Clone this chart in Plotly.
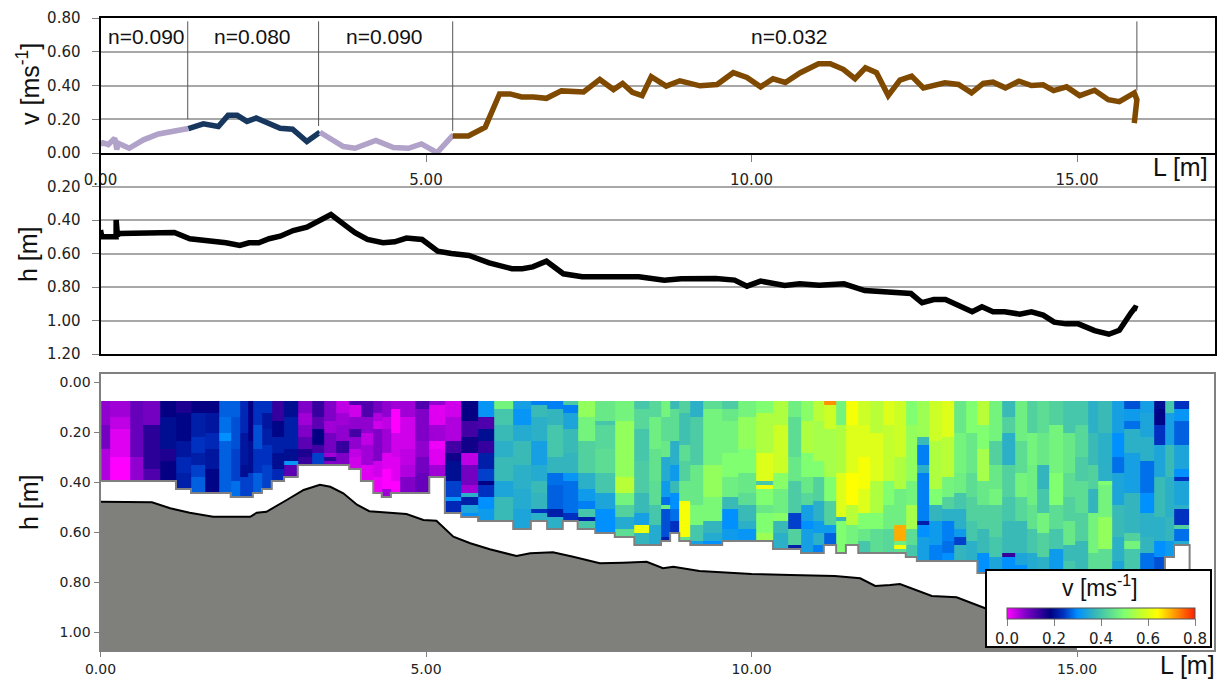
import plotly.graph_objects as go

W, H = 1223, 680
FONT = "DejaVu Sans"
LABEL = "Liberation Sans"

# velocity along the reach, one list per roughness zone
v_l1 = [0.0, 0.04, 0.12, 0.22, 0.25, 0.27, 0.44, 0.66, 0.89, 1.12, 1.35]
v_y1 = [0.05, 0.06, 0.05, 0.088, 0.02, 0.058, 0.028, 0.078, 0.113, 0.131, 0.145]
v_l2 = [1.35, 1.58, 1.81, 1.96, 2.10, 2.25, 2.39, 2.76, 2.95, 3.17, 3.37]
v_y2 = [0.145, 0.173, 0.157, 0.223, 0.223, 0.187, 0.207, 0.147, 0.141, 0.068, 0.123]
v_l3 = [3.37, 3.73, 3.91, 4.23, 4.50, 4.73, 4.93, 5.17, 5.42]
v_y3 = [0.123, 0.038, 0.028, 0.074, 0.032, 0.028, 0.054, 0.002, 0.107]
v_l4 = [5.41, 5.65, 5.91, 6.13, 6.29, 6.47, 6.65, 6.85, 7.08, 7.42, 7.67, 7.88, 8.02, 8.17, 8.32, 8.46,
        8.69, 8.90, 9.21, 9.47, 9.72, 9.93, 10.14, 10.33, 10.52, 10.75, 11.03, 11.21, 11.41, 11.59,
        11.75, 11.92, 12.10, 12.28, 12.46, 12.64, 12.97, 13.18, 13.38, 13.56, 13.71, 13.90, 14.11,
        14.30, 14.48, 14.64, 14.84, 15.04, 15.27, 15.48, 15.65, 15.84, 15.88, 15.92, 15.88]
v_y4 = [0.101, 0.101, 0.153, 0.35, 0.35, 0.332, 0.332, 0.324, 0.368, 0.362, 0.436, 0.376, 0.412, 0.36, 0.34, 0.452,
        0.396, 0.428, 0.398, 0.406, 0.476, 0.448, 0.392, 0.44, 0.418, 0.476, 0.529, 0.529, 0.496, 0.44,
        0.505, 0.476, 0.34, 0.432, 0.456, 0.386, 0.416, 0.406, 0.356, 0.412, 0.42, 0.386, 0.426,
        0.40, 0.404, 0.37, 0.392, 0.34, 0.372, 0.316, 0.304, 0.346, 0.356, 0.316, 0.177]

zone_l = [1.34, 3.35, 5.41, 15.92]
zone_top = [0.78, 0.78, 0.78, 0.78]
zone_low = [0.20, 0.16, 0.13, 0.37]
zone_names = ["n=0.090", "n=0.080", "n=0.090", "n=0.032"]
zone_name_l = [0.70, 2.34, 4.36, 10.59]

# water depth profile
h_l = [0.0, 0.02, 0.20, 0.24, 0.24, 0.26, 0.30, 1.134, 1.372, 1.637, 1.928, 2.14, 2.28, 2.43, 2.59, 2.76, 2.96, 3.17,
       3.54, 3.81, 3.91, 4.10, 4.34, 4.52, 4.70, 4.94, 5.18, 5.39, 5.66, 5.97, 6.32, 6.48, 6.64, 6.85,
       7.11, 7.40, 7.67, 7.88, 8.27, 8.66, 8.92, 9.45, 9.74, 9.93, 10.14, 10.51, 10.74, 11.04, 11.42,
       11.74, 12.10, 12.45, 12.62, 12.80, 12.98, 13.39, 13.54, 13.71, 13.89, 14.12, 14.30, 14.48, 14.65,
       14.83, 15.02, 15.27, 15.49, 15.65, 15.83, 15.89, 15.93]
h_y = [0.46, 0.50, 0.50, 0.50, 0.40, 0.49, 0.48, 0.475, 0.512, 0.52, 0.536, 0.552, 0.536, 0.536, 0.512, 0.497, 0.463, 0.443,
       0.367, 0.447, 0.476, 0.516, 0.536, 0.53, 0.508, 0.516, 0.586, 0.60, 0.612, 0.656, 0.691, 0.691, 0.68, 0.646,
       0.721, 0.739, 0.739, 0.731, 0.739, 0.759, 0.751, 0.749, 0.759, 0.795, 0.765, 0.791, 0.781, 0.789, 0.781,
       0.821, 0.831, 0.839, 0.894, 0.875, 0.875, 0.948, 0.918, 0.948, 0.948, 0.962, 0.948, 0.968, 1.01,
       1.02, 1.02, 1.06, 1.082, 1.058, 0.954, 0.924, 0.93]

# channel bed in the lower panel
bed_l = [0.0, 0.79, 1.07, 1.37, 1.73, 2.30, 2.40, 2.55, 2.86, 3.12, 3.37, 3.53, 3.73, 3.94, 4.13, 4.52, 4.70, 4.96, 5.16,
         5.42, 5.68, 5.98, 6.39, 6.60, 6.95, 7.26, 7.67, 8.03, 8.39, 8.64, 8.80, 9.20, 10.0, 10.6, 11.28, 11.67,
         11.90, 12.13, 12.28, 12.77, 13.15, 13.59, 14.2, 15.0]
bed_h = [0.479, 0.481, 0.505, 0.523, 0.539, 0.539, 0.523, 0.519, 0.472, 0.432, 0.411, 0.419, 0.445, 0.491, 0.517, 0.523, 0.528, 0.552, 0.555,
         0.619, 0.645, 0.669, 0.696, 0.685, 0.681, 0.699, 0.725, 0.723, 0.719, 0.745, 0.739, 0.756, 0.768, 0.772, 0.776, 0.785,
         0.816, 0.812, 0.808, 0.856, 0.861, 0.905, 0.96, 1.02]

# velocity section: column edges [m]
cell_edges = [0.01, 0.15, 0.45, 0.65, 0.91, 1.16, 1.39, 1.61, 1.82, 2.00, 2.14, 2.27, 2.34, 2.48, 2.63, 2.82, 3.03,
              3.25, 3.43, 3.62, 3.82, 4.00, 4.19, 4.32, 4.46, 4.60, 4.83, 5.05, 5.29, 5.54, 5.80, 6.04,
              6.34, 6.61, 6.86, 7.10, 7.33, 7.60, 7.90, 8.20, 8.43, 8.61, 8.75, 8.89, 9.06, 9.25, 9.55, 9.79,
              10.07, 10.33, 10.56, 10.76, 10.94, 11.11, 11.30, 11.45, 11.64, 11.82,
              12.02, 12.19, 12.37, 12.54, 12.73, 12.93, 13.11, 13.30, 13.47, 13.65, 13.85, 14.05, 14.23, 14.39,
              14.57, 14.78, 14.97, 15.17, 15.32, 15.54, 15.72, 15.97, 16.18, 16.35, 16.49, 16.73]
row_top = 0.076
row_step = 0.016
# each column, from the surface down: [speed in cm/s, rows of that speed]
column_runs = [
    [[7,6],[9,6],[5,8]], [[6,4],[4,3],[2,7],[0,6]], [[10,14],[7,6]], [[9,6],[15,11],[12,3]],
    [[18,4],[20,8],[16,3],[18,5]], [[16,3],[19,7],[21,4],[23,4],[22,4]], [[18,3],[22,6],[24,4],[22,3],[25,3],[27,4]],
    [[18,3],[21,5],[23,4],[21,5],[19,6]], [[27,4],[28,4],[30,2],[27,13]], [[27,4],[26,8],[25,8],[28,4]],
    [[23,8],[21,8],[20,3],[25,5]], [[18,10],[20,8],[25,6]], [[24,6],[26,6],[24,6],[27,5]],
    [[24,3],[21,4],[22,4],[24,5],[25,6]], [[14,5],[19,4],[22,4],[20,4],[23,3]], [[20,4],[22,8],[20,3],[31,1],[11,3]],
    [[8,3],[6,3],[8,3],[11,3],[16,2],[14,2]], [[14,4],[11,3],[18,4],[13,2],[25,3]], [[8,5],[6,3],[9,5],[6,1],[15,1],[8,1]],
    [[4,3],[6,3],[7,4],[14,3],[8,3]], [[12,1],[3,3],[7,3],[13,2],[7,3],[4,2],[3,3]], [[12,4],[7,4],[4,3],[6,5],[2,4]],
    [[9,3],[5,2],[3,2],[8,8],[3,4],[1,4]], [[7,4],[4,3],[6,6],[2,4],[0,5],[6,2]], [[6,2],[0,6],[3,6],[2,6],[0,3]],
    [[6,4],[3,8],[4,4],[5,3],[8,4]], [[12,2],[8,8],[7,4],[9,4],[10,5]], [[7,1],[2,5],[6,4],[1,2],[2,4],[6,3]],
    [[3,4],[5,6],[13,3],[17,2],[20,5],[25,4],[31,1],[23,3]],
    [[18,5],[13,4],[17,4],[4,3],[9,5],[6,2],[36,1],[22,2],[34,2],[30,1]],
    [[31,4],[12,3],[20,3],[14,3],[22,4],[25,3],[18,1],[24,3],[30,3],[32,3]],
    [[48,2],[40,4],[38,4],[36,4],[38,6],[34,4],[38,6]], [[33,2],[31,4],[35,4],[38,6],[36,6],[35,5],[34,5]],
    [[29,1],[38,3],[36,6],[33,6],[35,4],[38,3],[37,4],[24,1],[36,2]], [[29,2],[37,4],[40,8],[37,4],[28,3],[27,6],[22,2],[36,3]],
    [[41,1],[29,2],[34,4],[38,6],[37,5],[31,2],[28,8],[24,2]], [[52,4],[48,6],[42,8],[36,4],[32,3],[29,2],[40,2],[22,1],[40,2]],
    [[46,5],[40,1],[43,6],[44,6],[40,5],[34,4],[30,6]], [[48,5],[52,14],[56,4],[48,3],[42,3],[35,3],[44,2]],
    [[40,2],[43,5],[40,8],[41,8],[38,5],[33,3],[62,2],[37,3]], [[43,4],[47,8],[45,8],[44,6],[40,5],[35,5]],
    [[48,4],[44,6],[46,4],[35,6],[32,4],[28,2],[47,1],[26,7],[22,1]], [[38,2],[44,8],[36,6],[32,4],[38,3],[30,4],[28,3],[24,3]],
    [[42,3],[39,8],[44,4],[42,5],[46,5],[63,9],[45,1]], [[36,4],[41,12],[46,10],[49,5],[40,4],[33,1]],
    [[44,2],[48,14],[52,8],[49,6],[37,3],[35,2],[30,1]], [[41,2],[46,3],[48,8],[50,6],[47,5],[38,3],[30,5],[32,3]],
    [[48,4],[52,8],[50,6],[46,5],[44,3],[38,4],[36,2],[31,3]], [[50,3],[55,10],[60,7],[40,1],[62,1],[50,4],[46,2],[50,5],[53,2]],
    [[55,6],[58,12],[51,4],[47,6],[51,2],[38,3],[36,4]], [[47,4],[44,10],[46,6],[41,8],[25,4],[42,4],[22,1]],
    [[51,5],[55,8],[50,6],[46,4],[43,3],[33,4],[30,2],[33,6]], [[56,5],[54,10],[50,4],[42,6],[36,5],[32,3],[36,3],[29,2]],
    [[72,1],[58,6],[54,12],[50,6],[42,6],[32,2],[27,3]], [[48,6],[55,12],[60,11],[37,1],[50,8]],
    [[63,6],[60,12],[64,8],[56,5],[48,5]], [[58,6],[60,8],[63,8],[60,6],[50,4],[46,3],[40,3]],
    [[56,8],[60,12],[55,8],[50,4],[44,6]], [[60,6],[57,14],[50,6],[47,6],[43,6]],
    [[58,8],[58,6],[55,8],[47,9],[70,4],[47,1],[63,1],[44,1]], [[50,6],[52,14],[48,6],[54,6],[44,4],[40,3]],
    [[53,9],[38,2],[29,5],[36,2],[29,12],[22,1],[30,3],[33,6]], [[58,10],[55,12],[50,4],[37,4],[32,6],[29,4]],
    [[60,9],[56,10],[48,5],[42,3],[36,3],[29,5],[28,3],[30,2]], [[46,8],[48,10],[47,5],[40,4],[36,5],[32,2],[25,2],[37,4]],
    [[50,8],[46,10],[44,6],[42,6],[40,5],[36,5]], [[56,6],[50,6],[54,8],[46,6],[42,6],[38,6],[30,5]],
    [[48,10],[42,6],[46,6],[48,4],[42,8],[40,5],[34,4]], [[38,4],[42,4],[36,8],[42,8],[40,6],[38,8],[14,1],[30,4]],
    [[47,10],[44,8],[48,6],[43,6],[38,8],[34,3],[30,2]], [[42,8],[48,8],[47,10],[45,6],[40,6],[35,5]],
    [[44,8],[46,8],[37,6],[40,6],[48,5],[42,6],[36,4]], [[42,6],[48,12],[50,8],[44,6],[40,5],[32,6]],
    [[40,8],[46,10],[44,6],[42,6],[46,6],[38,4],[40,3]], [[40,6],[43,8],[41,6],[44,8],[42,7],[38,8]],
    [[36,8],[38,8],[42,6],[37,6],[48,10],[44,5]], [[38,8],[36,12],[50,1],[48,8],[52,8],[44,6]],
    [[33,8],[30,6],[28,4],[34,8],[38,8],[36,6],[34,3]], [[26,2],[32,3],[28,2],[36,6],[33,10],[37,10],[42,2],[48,2],[40,6]],
    [[33,3],[34,6],[36,6],[28,8],[30,5],[36,6],[37,4],[28,5]], [[20,2],[19,4],[24,5],[34,8],[38,10],[36,6],[30,4],[26,4]],
    [[40,3],[33,8],[38,8],[36,10],[37,6],[32,4]],
    [[24,2],[31,3],[27,6],[34,6],[30,2],[24,1],[34,6],[36,1],[24,4],[42,1],[28,3],[35,1]],
]
right_wall_depth = 0.78

v_ticks = [0.0, 0.2, 0.4, 0.6, 0.8]
h_ticks = [0.2, 0.4, 0.6, 0.8, 1.0, 1.2]
sec_ticks = [0.0, 0.2, 0.4, 0.6, 0.8, 1.0]
l_ticks = [0, 5, 10, 15]

colorscale = [[0.0, "#FF00FF"], [0.1, "#8000C8"], [0.23, "#000080"], [0.3, "#0030C0"], [0.375, "#0090FF"],
              [0.47, "#38B8B8"], [0.625, "#80FF70"], [0.72, "#C8FF28"], [0.8, "#FFFF00"], [0.9, "#FF9000"], [1.0, "#FF2000"]]

# ---- build section grid
n_rows = max(sum(n for _, n in col) for col in column_runs)
columns = []
bottoms = []
for col in column_runs:
    vals = []
    for speed, n in col:
        vals += [speed / 100] * n
    bottoms.append(row_top + row_step * len(vals))
    columns.append(vals + [None] * (n_rows - len(vals)))
z = [[columns[c][r] for c in range(len(columns))] for r in range(n_rows)]
row_edges = [row_top + row_step * i for i in range(n_rows + 1)]

fx = lambda p: p / W
fy = lambda p: 1 - p / H
L_MAX = (1215 - 100.5) / 65.1

fig = go.Figure()
GRID = "#A8A8A8"
for x, y, c in [(v_l1, v_y1, "#B0A2C8"), (v_l2, v_y2, "#17375E"), (v_l3, v_y3, "#B0A2C8"), (v_l4, v_y4, "#7F4A00")]:
    fig.add_trace(go.Scatter(x=x, y=y, mode="lines", line=dict(color=c, width=5.5), xaxis="x", yaxis="y"))
for x, lo, hi in zip(zone_l, zone_low, zone_top):
    fig.add_trace(go.Scatter(x=[x, x], y=[lo, hi], mode="lines", line=dict(color="#555555", width=1), xaxis="x", yaxis="y"))
fig.add_trace(go.Scatter(x=h_l, y=h_y, mode="lines", line=dict(color="black", width=5.5), xaxis="x2", yaxis="y2"))

fig.add_trace(go.Heatmap(x=cell_edges, y=row_edges, z=z, zmin=0, zmax=0.8, colorscale=colorscale, xaxis="x3", yaxis="y3",
                         hoverongaps=False,
                         colorbar=dict(orientation="h", lenmode="pixels", len=188, thicknessmode="pixels", thickness=11,
                                       x=fx(1101), xanchor="center", y=fy(608), yanchor="top", xpad=0, ypad=0,
                                       tickvals=[0, 0.2, 0.4, 0.6, 0.8], tickformat=".1f", ticks="outside", ticklen=7,
                                       tickcolor="#808080", outlinecolor="#555555", outlinewidth=1,
                                       tickfont=dict(family=FONT, size=15, color="#222222"))))
fig.add_trace(go.Scatter(x=cell_edges + [cell_edges[-1]], y=bottoms + [bottoms[-1], right_wall_depth], mode="lines",
                         line=dict(color="#808080", width=2, shape="hv"), xaxis="x3", yaxis="y3"))
floor = 1.072
fig.add_trace(go.Scatter(x=bed_l, y=[floor] * len(bed_l), mode="lines", line=dict(width=0), xaxis="x3", yaxis="y3"))
fig.add_trace(go.Scatter(x=bed_l, y=bed_h, mode="lines", line=dict(color="black", width=2), fill="tonexty",
                         fillcolor="#7F7F7B", xaxis="x3", yaxis="y3"))

tickf = dict(family=FONT, size=15, color="#222222")
common_y = dict(showline=True, linecolor="black", linewidth=2, mirror=True, showgrid=True, gridcolor=GRID, gridwidth=1.5,
                ticks="outside", ticklen=7, tickcolor="#808080", tickformat=".2f", tickfont=tickf, ticklabelstandoff=8, zeroline=False)
common_x = dict(showline=True, linecolor="black", linewidth=2, showgrid=False, zeroline=False)
sec = dict(showline=True, linecolor="#808080", linewidth=2, mirror=True, showgrid=False, zeroline=False,
           ticks="outside", ticklen=5, tickcolor="#808080", tickformat=".2f", tickfont=dict(family=FONT, size=14, color="#222222"))

fig.update_layout(
    width=W, height=H, margin=dict(l=0, r=0, t=0, b=0, autoexpand=False), paper_bgcolor="white", plot_bgcolor="white", showlegend=False,
    xaxis=dict(domain=[fx(100.5), fx(1215)], range=[0, L_MAX], anchor="y", tickvals=l_ticks, tickformat=".2f", tickfont=tickf,
               ticks="outside", ticklen=7, tickcolor="#808080", ticklabelstandoff=5, mirror=True, **common_x),
    yaxis=dict(domain=[fy(153), fy(18)], range=[0, 0.8], anchor="x", tickvals=v_ticks, **common_y),
    xaxis2=dict(domain=[fx(100.5), fx(1215)], range=[0, L_MAX], anchor="y2", showticklabels=False, ticks="", mirror=False, **common_x),
    yaxis2=dict(domain=[fy(354), fy(153)], range=[1.2, 0], anchor="x2", tickvals=h_ticks, **common_y),
    xaxis3=dict(domain=[fx(100.5), fx(1214)], range=[0, (1214 - 100.5) / 65.1], anchor="y3", tickvals=l_ticks, **sec),
    yaxis3=dict(domain=[fy(650), fy(374)], range=[floor, -0.032], anchor="x3", tickvals=sec_ticks, **sec),
    shapes=[dict(type="rect", xref="paper", yref="paper", x0=fx(986), x1=fx(1211), y0=fy(647), y1=fy(570),
                 fillcolor="white", line=dict(color="black", width=2), layer="above")],
)

ann = []
center = dict(xanchor="center", yanchor="middle", showarrow=False)
for x, t in zip(zone_name_l, zone_names):
    ann.append(dict(x=x, y=0.69, xref="x", yref="y", text=t, font=dict(family=LABEL, size=21, color="#111111"), **center))
lab = dict(family=LABEL, size=25, color="#111111")
for px, py, t, rot in [(28, 84, "v [ms<sup>-1</sup>]", -90), (28, 254, "h [m]", -90), (29, 502, "h [m]", -90)]:
    ann.append(dict(x=fx(px), y=fy(py), xref="paper", yref="paper", text=t, textangle=rot, font=lab, **center))
for px, py in [(1180, 167), (1187, 665)]:
    ann.append(dict(x=fx(px), y=fy(py), xref="paper", yref="paper", text="L [m]", font=lab, **center))
ann.append(dict(x=fx(1100), y=fy(586), xref="paper", yref="paper", text="v [ms<sup>-1</sup>]",
                font=dict(family=LABEL, size=23, color="#111111"), **center))
fig.update_layout(annotations=ann)

fig.write_html("out.html", config={"displayModeBar": False},
               post_script="document.body.style.margin='0';document.body.style.overflow='hidden';")
